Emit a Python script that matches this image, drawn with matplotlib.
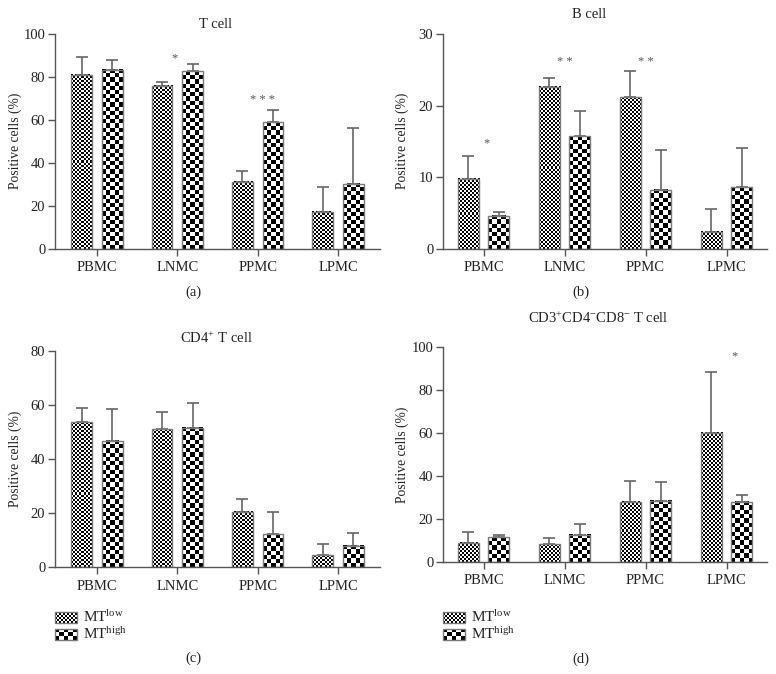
import numpy as np
import matplotlib
matplotlib.use('Agg')
import matplotlib.pyplot as plt
from matplotlib.patches import Rectangle

plt.rcParams['font.family'] = ['Liberation Serif', 'DejaVu Serif']
plt.rcParams['mathtext.fontset'] = 'custom'
plt.rcParams['mathtext.rm'] = 'Liberation Serif'
plt.rcParams['mathtext.it'] = 'Liberation Serif:italic'
plt.rcParams['mathtext.bf'] = 'Liberation Serif:bold'

# ---------------- data ----------------
categories = ['PBMC', 'LNMC', 'PPMC', 'LPMC']
group_labels = [r'MT$^{\mathrm{low}}$', r'MT$^{\mathrm{high}}$']

# (a) T cell
t_low = [81.1, 75.9, 31.2, 17.3]
t_low_sd = [8.2, 1.7, 5.3, 11.4]
t_high = [83.3, 82.7, 58.9, 30.4]
t_high_sd = [4.6, 3.4, 5.7, 25.9]
t_stars = ['', '*', '* * *', '']
t_star_y = [0, 88.5, 69.5, 0]

# (b) B cell
b_low = [9.83, 22.67, 21.19, 2.41]
b_low_sd = [3.1, 1.16, 3.66, 3.11]
b_high = [4.64, 15.72, 8.30, 8.62]
b_high_sd = [0.46, 3.52, 5.52, 5.52]
b_stars = ['*', '* *', '* *', '']
b_star_y = [14.8, 26.1, 26.1, 0]

# (c) CD4+ T cell
c_low = [53.7, 51.1, 20.4, 4.4]
c_low_sd = [5.3, 6.3, 4.8, 4.0]
c_high = [46.7, 51.5, 12.1, 7.9]
c_high_sd = [11.9, 9.1, 8.3, 4.7]
c_stars = ['', '', '', '']
c_star_y = [0, 0, 0, 0]

# (d) CD3+CD4-CD8- T cell
d_low = [9.0, 8.3, 28.0, 60.1]
d_low_sd = [5.1, 2.8, 9.7, 28.5]
d_high = [11.6, 12.7, 28.4, 28.0]
d_high_sd = [0.9, 4.9, 9.0, 3.2]
d_stars = ['', '', '', '*']
d_star_y = [0, 0, 0, 95.5]

# ---------------- figure ----------------
W, H, DPI = 776, 674, 100
fig = plt.figure(figsize=(W / DPI, H / DPI), dpi=DPI)

EDGE = '#7a7a7a'
ERR = '#666666'
AX = '#555555'
TXT = '#222222'
FS = 10.5


def box(x0, y0, x1, y1):
    return [x0 / W, 1 - y1 / H, (x1 - x0) / W, (y1 - y0) / H]


def ftext(x, y, s, **kw):
    kw.setdefault('color', TXT)
    kw.setdefault('ha', 'center')
    kw.setdefault('va', 'center')
    fig.text(x / W, 1 - y / H, s, **kw)


def checker(ax, x0, x1, y0, y1, cell, z):
    p0 = ax.transData.transform((x0, y0))
    p1 = ax.transData.transform((x1, y1))
    wpx = abs(p1[0] - p0[0])
    hpx = abs(p1[1] - p0[1])
    nx = max(1, int(round(wpx / cell)))
    ny = max(1, int(round(hpx / cell)))
    arr = np.add.outer(np.arange(ny), np.arange(nx)) % 2
    ax.imshow(arr, extent=(x0, x1, y0, y1), origin='lower', cmap='gray',
              vmin=0, vmax=1, interpolation='nearest', aspect='auto', zorder=z)


def panel(pbox, xlim, ymax, ystep, low, low_sd, high, high_sd, stars, star_y, star_dx):
    ax = fig.add_axes(box(*pbox))
    ax.set_xlim(*xlim)
    ax.set_ylim(0, ymax)
    x = np.arange(len(categories))
    off, bw = 0.19, 0.26
    bl = ax.bar(x - off, low, width=bw, facecolor='none', edgecolor=EDGE,
                linewidth=1.0, zorder=4)
    bh = ax.bar(x + off, high, width=bw, facecolor='none', edgecolor=EDGE,
                linewidth=1.0, zorder=4)
    for r in bl:
        checker(ax, r.get_x(), r.get_x() + r.get_width(), 0, r.get_height(), 2, 2)
    for r in bh:
        checker(ax, r.get_x(), r.get_x() + r.get_width(), 0, r.get_height(), 4.2, 2)
    ax.errorbar(x - off, low, yerr=[np.zeros(len(low)), low_sd], fmt='none',
                ecolor=ERR, elinewidth=1.2, capsize=4.5, capthick=1.2, zorder=3)
    ax.errorbar(x + off, high, yerr=[np.zeros(len(high)), high_sd], fmt='none',
                ecolor=ERR, elinewidth=1.2, capsize=4.5, capthick=1.2, zorder=3)
    for i, (s, yy) in enumerate(zip(stars, star_y)):
        if s:
            ax.text(x[i] + star_dx[i], yy, s, ha='center', va='center',
                    fontsize=9, color=AX)
    ax.set_xlim(*xlim)
    ax.set_ylim(0, ymax)
    ax.set_xticks(x)
    ax.set_xticklabels(categories)
    ax.set_yticks(np.arange(0, ymax + 0.01, ystep))
    for sp in ['top', 'right']:
        ax.spines[sp].set_visible(False)
    for sp in ['left', 'bottom']:
        ax.spines[sp].set_color(AX)
        ax.spines[sp].set_linewidth(1.0)
    ax.tick_params(direction='out', length=5, width=1.0, color=AX,
                   labelsize=FS, labelcolor=TXT, pad=2)
    ax.tick_params(axis='x', pad=4)
    return ax


panel((55, 34, 380, 249), (-0.52, 3.52), 100, 20, t_low, t_low_sd, t_high, t_high_sd,
      t_stars, t_star_y, [0, -0.03, 0.06, 0])
panel((443, 34, 767, 249), (-0.5, 3.5), 30, 10, b_low, b_low_sd, b_high, b_high_sd,
      b_stars, b_star_y, [0.04, 0, 0, 0])
panel((55, 351, 380, 567), (-0.52, 3.52), 80, 20, c_low, c_low_sd, c_high, c_high_sd,
      c_stars, c_star_y, [0, 0, 0, 0])
panel((443, 347, 767, 562), (-0.5, 3.5), 100, 20, d_low, d_low_sd, d_high, d_high_sd,
      d_stars, d_star_y, [0, 0, 0, 0.1])

# titles
ftext(216, 24, 'T cell', fontsize=FS)
ftext(589, 15, 'B cell', fontsize=FS)
ftext(216, 338, r'CD4$^{+}$ T cell', fontsize=FS)
ftext(598, 318, r'CD3$^{+}$CD4$^{-}$CD8$^{-}$ T cell', fontsize=FS)

# y labels
for (xx, yy) in [(15, 141), (402, 141), (15, 459), (402, 455)]:
    ftext(xx, yy, 'Positive cells (%)', fontsize=9.8, rotation=90)

# subfigure labels
ftext(193, 292, '(a)', fontsize=FS)
ftext(581, 292, '(b)', fontsize=FS)
ftext(193, 658, '(c)', fontsize=FS)
ftext(581, 659, '(d)', fontsize=FS)

# legends
for lx in (55, 443):
    for k, (ty, cell) in enumerate([(612, 2), (629, 4.2)]):
        sax = fig.add_axes(box(lx, ty, lx + 22, ty + 11))
        sax.set_xlim(0, 1)
        sax.set_ylim(0, 1)
        checker(sax, 0, 1, 0, 1, cell, 1)
        sax.add_patch(Rectangle((0, 0), 1, 1, facecolor='none', edgecolor=EDGE,
                                linewidth=1.0, zorder=3, clip_on=False))
        sax.set_xlim(0, 1)
        sax.set_ylim(0, 1)
        sax.axis('off')
        ftext(lx + 28, ty + 5, group_labels[k], fontsize=11, ha='left')

fig.savefig('out.png', dpi=DPI)
